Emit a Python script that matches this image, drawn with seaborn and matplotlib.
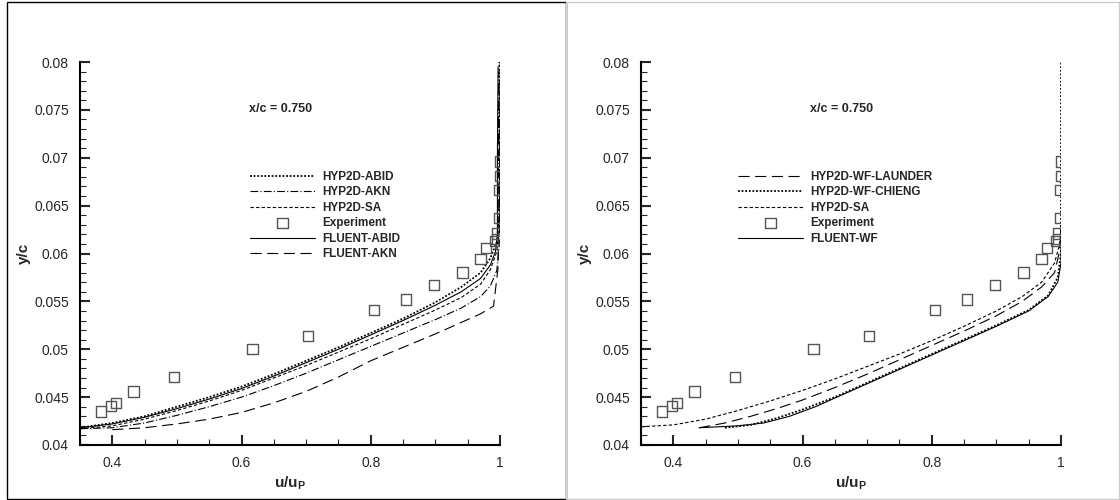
import matplotlib
matplotlib.use("Agg")
import matplotlib.pyplot as plt
from matplotlib.patches import Rectangle
from matplotlib.ticker import MultipleLocator, FixedLocator
import seaborn as sns

# experiment (same in both panels)
exp_x = [0.383, 0.398, 0.406, 0.433, 0.495, 0.617, 0.703, 0.805, 0.855, 0.898,
         0.942, 0.970, 0.978, 0.993, 0.996, 0.998, 0.999, 1.0, 1.0, 0.995]
exp_y = [0.0435, 0.0441, 0.0444, 0.0456, 0.0471, 0.0500, 0.0514, 0.0541, 0.0552, 0.0567,
         0.0580, 0.0594, 0.0606, 0.0613, 0.0621, 0.0637, 0.0666, 0.0681, 0.0696, 0.0615]

# left panel
fa_x = [0.35, 0.40, 0.45, 0.50, 0.55, 0.60, 0.65, 0.70, 0.75, 0.80, 0.85, 0.90, 0.94, 0.97, 0.985, 0.993, 0.996, 0.996, 0.997]
fa_y = [0.0418, 0.0422, 0.0429, 0.0438, 0.0448, 0.0459, 0.0472, 0.0486, 0.0500, 0.0515, 0.0530, 0.0546, 0.0560, 0.0574, 0.0588, 0.0602, 0.0620, 0.0700, 0.0795]
ha_x = [0.35, 0.40, 0.45, 0.50, 0.55, 0.60, 0.65, 0.70, 0.75, 0.80, 0.85, 0.90, 0.94, 0.97, 0.985, 0.995, 0.999, 0.999]
ha_y = [0.0418, 0.0423, 0.0430, 0.0440, 0.0450, 0.0461, 0.0474, 0.0488, 0.0502, 0.0517, 0.0532, 0.0549, 0.0565, 0.0580, 0.0595, 0.0612, 0.0640, 0.0800]
hk_x = [0.35, 0.40, 0.45, 0.50, 0.55, 0.60, 0.65, 0.70, 0.75, 0.80, 0.85, 0.90, 0.94, 0.97, 0.985, 0.995, 0.999, 1.0]
hk_y = [0.0417, 0.0418, 0.0423, 0.0431, 0.0440, 0.0450, 0.0462, 0.0475, 0.0489, 0.0503, 0.0517, 0.0531, 0.0543, 0.0555, 0.0566, 0.0582, 0.0610, 0.0790]
hs_x = [0.35, 0.40, 0.45, 0.50, 0.55, 0.60, 0.65, 0.70, 0.75, 0.80, 0.85, 0.90, 0.94, 0.97, 0.985, 0.995, 0.999, 1.0]
hs_y = [0.0417, 0.0420, 0.0427, 0.0436, 0.0446, 0.0457, 0.0470, 0.0483, 0.0497, 0.0511, 0.0526, 0.0541, 0.0554, 0.0568, 0.0583, 0.0602, 0.0625, 0.0800]
fk_x = [0.40, 0.45, 0.50, 0.55, 0.60, 0.65, 0.70, 0.75, 0.80, 0.85, 0.90, 0.94, 0.97, 0.99, 0.997, 0.998]
fk_y = [0.0416, 0.0418, 0.0422, 0.0427, 0.0434, 0.0444, 0.0456, 0.0471, 0.0488, 0.0502, 0.0516, 0.0528, 0.0537, 0.0545, 0.0585, 0.0790]

# right panel
wl_x = [0.44, 0.48, 0.52, 0.56, 0.60, 0.65, 0.70, 0.75, 0.80, 0.85, 0.90, 0.94, 0.97, 0.99, 0.997, 1.0]
wl_y = [0.0418, 0.0423, 0.0430, 0.0438, 0.0447, 0.0460, 0.0474, 0.0489, 0.0504, 0.0519, 0.0535, 0.0550, 0.0565, 0.0580, 0.0600, 0.0620]
wc_x = [0.48, 0.52, 0.56, 0.60, 0.65, 0.70, 0.75, 0.80, 0.85, 0.90, 0.95, 0.98, 0.995, 1.0, 1.0]
wc_y = [0.0418, 0.0421, 0.0428, 0.0437, 0.0450, 0.0465, 0.0480, 0.0495, 0.0510, 0.0525, 0.0541, 0.0556, 0.0575, 0.0600, 0.0800]
ws_x = [0.35, 0.40, 0.45, 0.50, 0.55, 0.60, 0.65, 0.70, 0.75, 0.80, 0.85, 0.90, 0.94, 0.97, 0.99, 0.998, 1.0]
ws_y = [0.0419, 0.0421, 0.0427, 0.0436, 0.0446, 0.0457, 0.0469, 0.0482, 0.0495, 0.0509, 0.0524, 0.0540, 0.0555, 0.0570, 0.0590, 0.0610, 0.0630]
fw_x = [0.44, 0.50, 0.54, 0.58, 0.62, 0.66, 0.70, 0.75, 0.80, 0.85, 0.90, 0.95, 0.98, 0.995, 1.0, 1.0]
fw_y = [0.0418, 0.0420, 0.0423, 0.0430, 0.0440, 0.0452, 0.0464, 0.0479, 0.0494, 0.0509, 0.0524, 0.0540, 0.0555, 0.0570, 0.0590, 0.0610]

x_ticks = [0.4, 0.6, 0.8, 1.0]
x_labels = ["0.4", "0.6", "0.8", "1"]
y_ticks = [0.04, 0.045, 0.05, 0.055, 0.06, 0.065, 0.07, 0.075, 0.08]
y_labels = ["0.04", "0.045", "0.05", "0.055", "0.06", "0.065", "0.07", "0.075", "0.08"]

DOT = (0, (1, 1))
DASHDOT = (0, (7, 2, 1, 2))
SHORT = (0, (3, 2))
LONG = (0, (10, 5))

sns.set_style("white")
plt.rcParams["font.family"] = ["Liberation Sans", "DejaVu Sans"]
plt.rcParams["mathtext.fontset"] = "custom"
plt.rcParams["mathtext.bf"] = "Liberation Sans:bold"
plt.rcParams["mathtext.rm"] = "Liberation Sans:bold"

fig = plt.figure(figsize=(11.2, 5), dpi=100)
ax1 = fig.add_axes([80 / 1120, 1 - 445 / 500, 420 / 1120, 383 / 500])
ax2 = fig.add_axes([641 / 1120, 1 - 445 / 500, 420 / 1120, 383 / 500])

# panel frames
fig.patches.append(Rectangle((7 / 1120, 1 / 500), 559 / 1120, 497 / 500, transform=fig.transFigure,
                             fill=False, edgecolor="black", linewidth=1))
fig.patches.append(Rectangle((566 / 1120, 1 / 500), 553 / 1120, 497 / 500, transform=fig.transFigure,
                             fill=False, edgecolor="#cccccc", linewidth=1))


def curve(ax, x, y, ls, lw, label):
    sns.lineplot(x=x, y=y, ax=ax, sort=False, estimator=None, color="black",
                 linestyle=ls, linewidth=lw, label=label)


def experiment(ax):
    sns.scatterplot(x=exp_x, y=exp_y, ax=ax, marker="s", s=55, facecolor="none",
                    edgecolor="#555555", linewidth=1.0, label="Experiment", zorder=5)


# left
curve(ax1, ha_x, ha_y, DOT, 1.3, "HYP2D-ABID")
curve(ax1, hk_x, hk_y, DASHDOT, 0.8, "HYP2D-AKN")
curve(ax1, hs_x, hs_y, SHORT, 0.8, "HYP2D-SA")
experiment(ax1)
curve(ax1, fa_x, fa_y, "-", 0.8, "FLUENT-ABID")
curve(ax1, fk_x, fk_y, LONG, 0.8, "FLUENT-AKN")

# right
curve(ax2, wl_x, wl_y, LONG, 0.8, "HYP2D-WF-LAUNDER")
curve(ax2, wc_x, wc_y, DOT, 1.3, "HYP2D-WF-CHIENG")
curve(ax2, ws_x, ws_y, SHORT, 0.8, "HYP2D-SA")
experiment(ax2)
curve(ax2, fw_x, fw_y, "-", 0.8, "FLUENT-WF")

for ax, lx in ((ax1, 0.405), (ax2, 0.231)):
    ax.set_xlim(0.35, 1.0)
    ax.set_ylim(0.04, 0.08)
    ax.xaxis.set_major_locator(FixedLocator(x_ticks))
    ax.set_xticklabels(x_labels)
    ax.xaxis.set_minor_locator(MultipleLocator(0.05))
    ax.yaxis.set_major_locator(FixedLocator(y_ticks))
    ax.set_yticklabels(y_labels)
    ax.yaxis.set_minor_locator(MultipleLocator(0.001))
    for side in ("top", "right"):
        ax.spines[side].set_visible(False)
    for side in ("left", "bottom"):
        ax.spines[side].set_linewidth(1.5)
        ax.spines[side].set_color("black")
    ax.tick_params(which="major", direction="in", length=7, width=1.5, labelsize=10, pad=8,
                   left=True, bottom=True)
    ax.tick_params(which="minor", direction="in", length=4, width=0.8, left=True, bottom=True)
    ax.set_xlabel(r"u/u$_\mathbf{P}$", fontsize=11, fontweight="bold", labelpad=3)
    ax.set_ylabel("y/c", fontsize=11, fontweight="bold", labelpad=2)
    ax.text(0.66, 0.0751, "x/c = 0.750", fontsize=9, fontweight="bold", ha="center", va="center")
    ax.legend(loc="upper left", bbox_to_anchor=(lx, 0.716), frameon=False,
              prop={"weight": "bold", "size": 8.5}, handlelength=5.5,
              labelspacing=0.3, handletextpad=0.6, borderpad=0, borderaxespad=0)

fig.savefig("out.png", dpi=100)
